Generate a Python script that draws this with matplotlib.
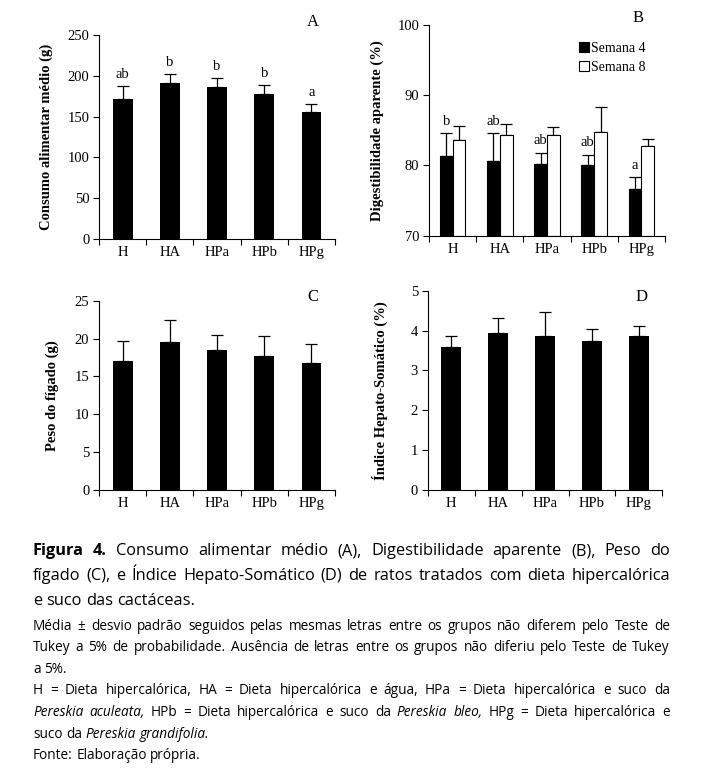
import matplotlib
matplotlib.use("Agg")
from matplotlib import pyplot as plt
import numpy as np

#-------------- Data ---------------
groups = ['H', 'HA', 'HPa', 'HPb', 'HPg']

# A - consumo alimentar medio (g)
consumo = [172, 190.8, 185.9, 177.7, 156]
consumo_sd = [16, 11, 11, 11, 9.8]
consumo_letters = ['ab', 'b', 'b', 'b', 'a']

# B - digestibilidade aparente (%)
dig_s4 = [81.4, 80.7, 80.2, 80.0, 76.7]
dig_s4_sd = [3.2, 3.9, 1.6, 1.5, 1.6]
dig_s8 = [83.6, 84.3, 84.3, 84.8, 82.8]
dig_s8_sd = [2.0, 1.6, 1.2, 3.5, 0.9]
dig_letters = ['b', 'ab', 'ab', 'ab', 'a']

# C - peso do figado (g)
figado = [17.03, 19.5, 18.53, 17.74, 16.73]
figado_sd = [2.69, 2.99, 1.94, 2.59, 2.5]

# D - indice hepato-somatico (%)
ihs = [3.60, 3.93, 3.87, 3.75, 3.87]
ihs_sd = [0.26, 0.39, 0.59, 0.29, 0.25]

SERIF = 'Liberation Serif'
SANS = 'Open Sans'


def style_axes(ax, ylim, yticks, ylabel, panel, pxy, labx):
    x = np.arange(len(groups))
    ax.set_xlim(-0.5, len(groups) - 0.5)
    ax.set_ylim(*ylim)
    ax.set_yticks(yticks)
    ax.set_xticks(x)
    ax.set_xticklabels(groups, family=SERIF, fontsize=10.5)
    ax.set_xticks(np.arange(-0.5, len(groups)), minor=True)
    ax.tick_params(axis='x', which='major', length=0, pad=5)
    ax.tick_params(axis='x', which='minor', length=4, direction='out', width=0.8)
    ax.tick_params(axis='y', length=4, direction='out', width=0.8, pad=3)
    for lab in ax.get_yticklabels():
        lab.set_family(SERIF)
        lab.set_fontsize(10.5)
    ax.spines['top'].set_visible(False)
    ax.spines['right'].set_visible(False)
    ax.spines['left'].set_linewidth(0.8)
    ax.spines['bottom'].set_linewidth(0.8)
    ax.set_ylabel(ylabel, family=SERIF, fontsize=10.5, fontweight='bold')
    ax.yaxis.set_label_coords(labx, 0.5)
    ax.text(pxy[0], pxy[1], panel, transform=ax.transAxes, family=SERIF, fontsize=12,
            ha='center', va='center')


def single_bars(ax, vals, sd, width=0.42):
    x = np.arange(len(groups))
    ax.bar(x, vals, width=width, color='black', zorder=2)
    ax.errorbar(x, vals, yerr=[np.zeros(len(sd)), sd], fmt='none', ecolor='black',
                elinewidth=0.9, capsize=4, capthick=0.9, zorder=1)


fig = plt.figure(figsize=(7.09, 7.74), dpi=100)

#-------------- Panel A ---------------
axA = fig.add_axes([0.1396, 0.6912, 0.333, 0.2636])
single_bars(axA, consumo, consumo_sd)
style_axes(axA, (0, 250), np.arange(0, 251, 50), 'Consumo alimentar médio (g)', 'A',
           (0.907, 1.064), -0.195)
for i, (v, s, t) in enumerate(zip(consumo, consumo_sd, consumo_letters)):
    axA.text(i, v + s + 6, t, family=SERIF, fontsize=10.5, ha='center', va='bottom')

#-------------- Panel B ---------------
axB = fig.add_axes([0.605, 0.6955, 0.333, 0.2722])
xb = np.arange(len(groups))
w = 0.27
axB.bar(xb - w / 2, np.array(dig_s4) - 70, bottom=70, width=w, color='black',
        edgecolor='black', linewidth=0.8, label='Semana 4', zorder=2)
axB.bar(xb + w / 2, np.array(dig_s8) - 70, bottom=70, width=w, color='white',
        edgecolor='black', linewidth=0.8, label='Semana 8', zorder=2)
axB.errorbar(xb - w / 2, dig_s4, yerr=[np.zeros(5), dig_s4_sd], fmt='none', ecolor='black',
             elinewidth=0.9, capsize=4, capthick=0.9, zorder=1)
axB.errorbar(xb + w / 2, dig_s8, yerr=[np.zeros(5), dig_s8_sd], fmt='none', ecolor='black',
             elinewidth=0.9, capsize=4, capthick=0.9, zorder=1)
style_axes(axB, (70, 100), np.arange(70, 101, 10), 'Digestibilidade aparente (%)', 'B',
           (0.886, 1.033), -0.19)
for i, (v, s, t) in enumerate(zip(dig_s4, dig_s4_sd, dig_letters)):
    axB.text(i - w / 2, v + s + 0.8, t, family=SERIF, fontsize=10.5, ha='center', va='bottom')
leg = axB.legend(loc='upper right', bbox_to_anchor=(0.97, 0.98), frameon=False,
                 prop={'family': SERIF, 'size': 10}, handlelength=0.7, handleheight=0.7,
                 handletextpad=0.15, labelspacing=0.45)

#-------------- Panel C ---------------
axC = fig.add_axes([0.1396, 0.3669, 0.333, 0.2446])
single_bars(axC, figado, figado_sd)
style_axes(axC, (0, 25), np.arange(0, 26, 5), 'Peso do fígado (g)', 'C', (0.907, 1.02), -0.17)

#-------------- Panel D ---------------
axD = fig.add_axes([0.6033, 0.3669, 0.331, 0.2575])
single_bars(axD, ihs, ihs_sd)
style_axes(axD, (0, 5), np.arange(0, 6, 1), 'Índice Hepato-Somático (%)', 'D', (0.91, 0.97), -0.171)


#-------------- Caption ---------------
def justified(lines, flags, y0, dy, size, left=33, right=670):
    renderer = fig.canvas.get_renderer()
    W, H = fig.bbox.width, fig.bbox.height
    # natural space width
    t1 = fig.text(0, 0, 'a a', family=SANS, fontsize=size)
    t2 = fig.text(0, 0, 'aa', family=SANS, fontsize=size)
    sw = t1.get_window_extent(renderer).width - t2.get_window_extent(renderer).width
    t1.remove()
    t2.remove()
    for n, (line, just) in enumerate(zip(lines, flags)):
        y = 1 - (y0 + n * dy) / H
        words = []
        for chunk, style in line:
            for wd in chunk.split():
                words.append((wd, style))
        arts = []
        for wd, style in words:
            kw = dict(family=SANS, fontsize=size, va='center', ha='left')
            if style == 'b':
                kw['fontweight'] = 'bold'
            if style == 'i':
                kw['fontstyle'] = 'italic'
            arts.append(fig.text(0, y, wd, **kw))
        widths = [a.get_window_extent(renderer).width for a in arts]
        gap = sw
        if just and len(arts) > 1:
            gap = ((right - left) - sum(widths)) / (len(arts) - 1)
        xpos = left
        for a, wdt in zip(arts, widths):
            a.set_x(xpos / W)
            xpos += wdt + gap


cap_lines = [
    [('Figura 4.', 'b'), ('Consumo alimentar médio (A), Digestibilidade aparente (B), Peso do', 'r')],
    [('fígado (C), e Índice Hepato-Somático (D) de ratos tratados com dieta hipercalórica', 'r')],
    [('e suco das cactáceas.', 'r')],
]
justified(cap_lines, [True, True, False], 551, 25, 11.8)

note_lines = [
    [('Média ± desvio padrão seguidos pelas mesmas letras entre os grupos não diferem pelo Teste de', 'r')],
    [('Tukey a 5% de probabilidade. Ausência de letras entre os grupos não diferiu pelo Teste de Tukey', 'r')],
    [('a 5%.', 'r')],
    [('H = Dieta hipercalórica, HA = Dieta hipercalórica e água, HPa = Dieta hipercalórica e suco da', 'r')],
    [('Pereskia aculeata,', 'i'), ('HPb = Dieta hipercalórica e suco da', 'r'), ('Pereskia bleo,', 'i'),
     ('HPg = Dieta hipercalórica e', 'r')],
    [('suco da', 'r'), ('Pereskia grandifolia.', 'i')],
    [('Fonte: Elaboração própria.', 'r')],
]
justified(note_lines, [True, True, False, True, True, False, False], 626, 21.6, 9.8)

fig.savefig('out.png', dpi=100, facecolor='white')
